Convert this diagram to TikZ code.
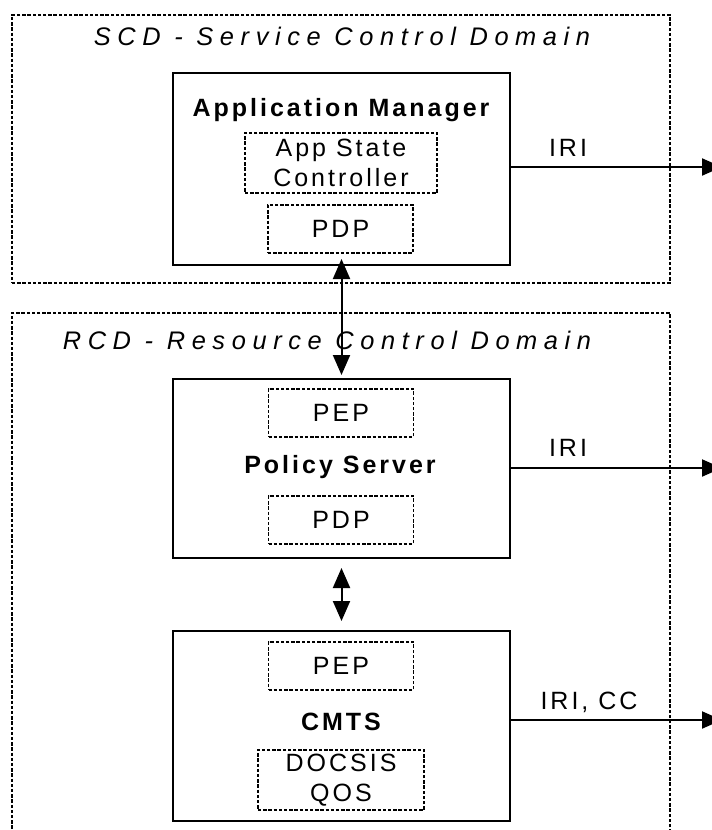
\documentclass[tikz,border=0pt]{standalone}
\usepackage{fontspec}
\setmainfont[LetterSpace=12]{Liberation Sans}
\newfontfamily\titlefont[LetterSpace=26]{Liberation Sans}
\usetikzlibrary{arrows.meta}

\tikzstyle{domainbox}=[draw, dash pattern=on 1.7pt off 0.9pt, line width=0.65pt, minimum width=329pt]
\tikzstyle{unitbox}=[draw, line width=1pt, minimum width=168.5pt]
\tikzstyle{partbox}=[draw, dash pattern=on 1.7pt off 0.9pt, line width=0.65pt, minimum width=72.5pt, minimum height=24pt, align=center, font=\fontsize{12.5}{15}\selectfont, inner sep=0pt]
\tikzstyle{domtitle}=[font=\fontsize{12.7}{15}\selectfont\titlefont\itshape]
\tikzstyle{unitname}=[font=\fontsize{12.5}{15}\selectfont\bfseries]
\tikzstyle{lbl}=[font=\fontsize{12.5}{15}\selectfont]
\tikzstyle{flow}=[line width=1pt, -{Triangle[length=10pt,width=8.5pt]}]
\tikzstyle{link}=[line width=1pt, {Triangle[length=10pt,width=8.5pt]}-{Triangle[length=10pt,width=8.5pt]}]

\begin{document}
\begin{tikzpicture}[x=0.5pt, y=-0.5pt]
            \useasboundingbox (0,0) rectangle (712,830);
            \clip (0,0) rectangle (712,830);
            % service control domain
            \node[domainbox, minimum height=134pt] at (341,149) (SCD) {};
            \node[domtitle] at (342,36) (scdT) {SCD - Service Control Domain};
            \node[unitbox, minimum height=96pt] at (341.5,169) (AM) {};
            \node[unitname] at (341,110) (amT) {Application Manager};
            \node[partbox, minimum width=96pt, minimum height=30pt] at (341,163) (asc) {App State\\Controller};
            \node[partbox] at (340.5,229) (pdpA) {PDP};
            % resource control domain
            \node[domainbox, minimum height=287pt] at (341,600) (RCD) {};
            \node[domtitle] at (327,340) (rcdT) {RCD - Resource Control Domain};
            \node[unitbox, minimum height=89.5pt] at (341.5,468.5) (PS) {};
            \node[partbox] at (341,413) (pepB) {PEP};
            \node[unitname] at (340,467) (psT) {Policy Server};
            \node[partbox] at (341,520) (pdpB) {PDP};
            \node[unitbox, minimum height=95pt] at (341.5,726) (CMTS) {};
            \node[partbox] at (341,666) (pepC) {PEP};
            \node[unitname] at (341,722) (cmtsT) {CMTS};
            \node[partbox, minimum width=83pt, minimum height=30pt] at (341,780) (docsis) {DOCSIS\\QOS};
            % outputs
            \coordinate (outA) at (722,167);
            \coordinate (outB) at (722,468);
            \coordinate (outC) at (722,720);
            \draw[flow] (AM.east |- outA) -- (outA);
            \draw[flow] (PS.east |- outB) -- (outB);
            \draw[flow] (CMTS.east |- outC) -- (outC);
            \node[lbl] at (568,148) (iriA) {IRI};
            \node[lbl] at (568,448) (iriB) {IRI};
            \node[lbl] at (589,702) (iriC) {IRI, CC};
            \draw[link, shorten <=-3.5pt, shorten >=1.5pt] (AM.south) -- (PS.north);
            \draw[link, shorten <=4.5pt, shorten >=4.5pt] (PS.south) -- (CMTS.north);
        \end{tikzpicture}
\end{document}
